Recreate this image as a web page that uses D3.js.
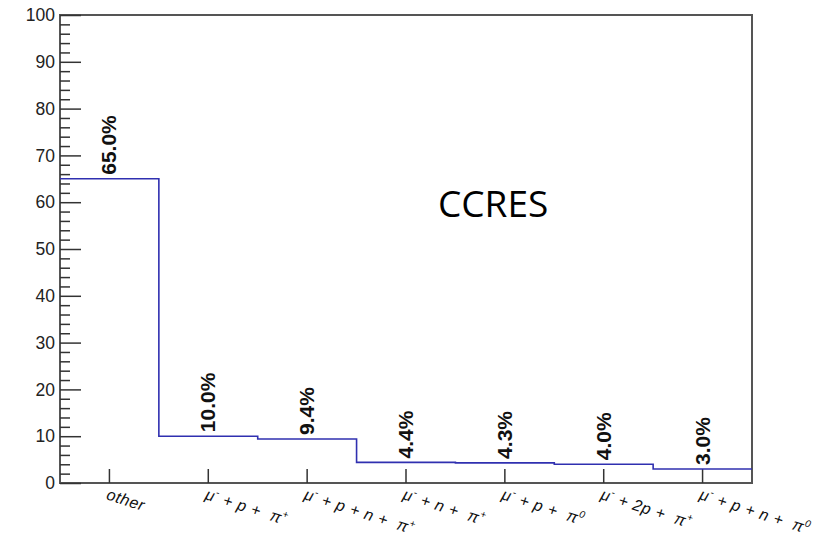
<!DOCTYPE html>
<html>
<head>
<meta charset="utf-8">
<script src="https://cdn.jsdelivr.net/npm/d3@7"></script>
<style>
  body { margin: 0; background: #fff; }
  svg { display: block; }
  .tick text { font-family: "Liberation Sans", Arial, sans-serif; }
</style>
</head>
<body>
<svg id="chart" width="828" height="544"></svg>
<script>
// channel fractions (percent) for CCRES events
const categories = ["other", "mu_p_pip", "mu_p_n_pip", "mu_n_pip", "mu_p_pi0", "mu_2p_pip", "mu_p_n_pi0"]
const labelParts = [
  [["other", ""]],
  [["μ", ""], ["-", "sup"], [" + p +  ", ""], ["π", ""], ["+", "sup"]],
  [["μ", ""], ["-", "sup"], [" + p + n +  ", ""], ["π", ""], ["+", "sup"]],
  [["μ", ""], ["-", "sup"], [" + n +  ", ""], ["π", ""], ["+", "sup"]],
  [["μ", ""], ["-", "sup"], [" + p +  ", ""], ["π", ""], ["0", "sup"]],
  [["μ", ""], ["-", "sup"], [" + 2p +  ", ""], ["π", ""], ["+", "sup"]],
  [["μ", ""], ["-", "sup"], [" + p + n +  ", ""], ["π", ""], ["0", "sup"]]
]
const values = [65.0, 10.0, 9.4, 4.4, 4.3, 4.0, 3.0]
const yTicks = [0, 10, 20, 30, 40, 50, 60, 70, 80, 90, 100]
const title = "CCRES"

const svg = d3.select("#chart")
const pLeft = 60, pRight = 752, pTop = 15, pBottom = 483

const x = d3.scaleBand().domain(categories).range([pLeft, pRight]).padding(0)
const y = d3.scaleLinear().domain([0, 100]).range([pBottom, pTop])

// frame
svg.append("rect")
  .attr("x", pLeft).attr("y", pTop)
  .attr("width", pRight - pLeft).attr("height", pBottom - pTop)
  .attr("fill", "none").attr("stroke", "#555").attr("stroke-width", 2)

// minor y ticks
svg.append("g")
  .attr("transform", "translate(" + pLeft + ",0)")
  .call(d3.axisLeft(y).tickValues(d3.range(0, 101, 2).filter(d => d % 10 !== 0)).tickSize(-10).tickFormat(""))
  .call(g => g.select(".domain").remove())
  .call(g => g.selectAll("line").attr("stroke", "#333").attr("stroke-width", 1.5))

// major y ticks
svg.append("g")
  .attr("transform", "translate(" + pLeft + ",0)")
  .call(d3.axisLeft(y).tickValues(yTicks).tickSize(-21).tickPadding(5))
  .call(g => g.select(".domain").remove())
  .call(g => g.selectAll("line").attr("stroke", "#333").attr("stroke-width", 1.5))
  .call(g => g.selectAll("text").attr("font-size", 17.5).attr("fill", "#222").attr("x", -5))

// x ticks at bin centres
svg.append("g")
  .attr("transform", "translate(0," + pBottom + ")")
  .call(d3.axisBottom(x).tickSize(-14).tickFormat(""))
  .call(g => g.select(".domain").remove())
  .call(g => g.selectAll("line").attr("stroke", "#333").attr("stroke-width", 1.5))

// rotated italic category labels
categories.forEach((c, i) => {
  const cx = x(c) + x.bandwidth() / 2 - 4
  const cy = pBottom + 16
  const t = svg.append("text")
    .attr("transform", "translate(" + cx + "," + cy + ") rotate(18)")
    .attr("font-family", "Liberation Sans, Arial, sans-serif")
    .attr("font-style", "italic")
    .attr("font-size", 16)
    .attr("letter-spacing", 0.6)
    .attr("fill", "#111")
    .style("white-space", "pre")
  let wasSup = false
  labelParts[i].forEach(p => {
    const s = t.append("tspan").text(p[0])
    if (p[1] === "sup") {
      s.attr("font-size", 10).attr("dy", -7)
      wasSup = true
    } else if (wasSup) {
      s.attr("dy", 7)
      wasSup = false
    }
  })
})

// step histogram
const pts = categories.map((c, i) => [x(c), values[i]])
pts.push([pRight, values[values.length - 1]])
svg.append("path")
  .datum(pts)
  .attr("fill", "none")
  .attr("stroke", "#3030b0")
  .attr("stroke-width", 1.6)
  .attr("d", d3.line().x(d => d[0]).y(d => y(d[1])).curve(d3.curveStepAfter))

// value labels
svg.selectAll(".val")
  .data(values)
  .join("text")
  .attr("class", "val")
  .attr("transform", (d, i) => "translate(" + (x(categories[i]) + x.bandwidth() / 2 + 7) + "," + (y(d) - 4) + ") rotate(-90)")
  .attr("font-family", "Liberation Sans, Arial, sans-serif")
  .attr("font-weight", "bold")
  .attr("font-size", 21)
  .attr("fill", "#111")
  .text(d => d.toFixed(1) + "%")

// title text
svg.append("text")
  .attr("x", 438).attr("y", 217)
  .attr("font-family", "Open Sans, sans-serif")
  .attr("font-size", 37)
  .attr("fill", "#000")
  .text(title)
</script>
</body>
</html>
